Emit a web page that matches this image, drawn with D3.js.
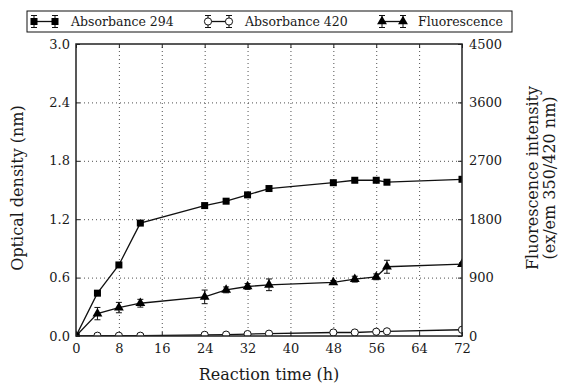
<!DOCTYPE html>
<html lang="en">
<head>
    <meta charset="UTF-8">
    <title>Reaction time chart</title>
    <script src="https://d3js.org/d3.v7.min.js"></script>
    <style>
        body { margin: 0; background: #fff; }
        svg text { font-family: "DejaVu Serif", serif; fill: #1a1a1a; }
        .grid line { stroke: #222; stroke-dasharray: 1,3; stroke-width: 0.8; }
        .grid path { display: none; }
        .axis path { display: none; }
        .axis line { stroke: #222; stroke-width: 1; }
    </style>
</head>
<body>
<div id="chart"></div>
<script>
    // reaction time (h)
    var times = [0, 4, 8, 12, 24, 28, 32, 36, 48, 52, 56, 58, 72];
    // optical density, left axis
    var abs294 = [0, 0.44, 0.73, 1.16, 1.34, 1.385, 1.45, 1.515, 1.575, 1.60, 1.60, 1.58, 1.61];
    var abs294Err = [0, 0.01, 0.01, 0.01, 0.01, 0.01, 0.01, 0.01, 0.01, 0.01, 0.01, 0.01, 0.01];
    var abs420 = [0, 0.003, 0.003, 0.003, 0.012, 0.014, 0.02, 0.024, 0.036, 0.036, 0.044, 0.048, 0.064];
    var abs420Err = [0, 0, 0.005, 0, 0.008, 0, 0.008, 0, 0.008, 0, 0.008, 0, 0.005];
    // fluorescence intensity, right axis
    var fluo = [0, 345, 438, 505, 603, 711, 763, 789, 825, 876, 912, 1067, 1109];
    var fluoErr = [0, 95, 80, 60, 105, 45, 45, 90, 30, 45, 45, 100, 20];

    var xTicks = [0, 8, 16, 24, 32, 40, 48, 56, 64, 72];
    var leftTicks = [0, 0.6, 1.2, 1.8, 2.4, 3.0];
    var rightTicks = [0, 900, 1800, 2700, 3600, 4500];

    var W = 564, H = 387;
    var pL = 76, pR = 462, pT = 44, pB = 336;

    var svg = d3.select("#chart").append("svg")
        .attr("width", W)
        .attr("height", H);

    var x = d3.scaleLinear().domain([0, 72]).range([pL, pR]);
    var yL = d3.scaleLinear().domain([0, 3]).range([pB, pT]);
    var yR = d3.scaleLinear().domain([0, 4500]).range([pB, pT]);

    // dotted grid
    svg.append("g")
        .attr("class", "grid")
        .attr("transform", "translate(0," + pB + ")")
        .call(d3.axisBottom(x).tickValues(xTicks.slice(1, -1)).tickSize(-(pB - pT)).tickFormat(""));
    svg.append("g")
        .attr("class", "grid")
        .attr("transform", "translate(" + pL + ",0)")
        .call(d3.axisLeft(yL).tickValues(leftTicks.slice(1, -1)).tickSize(-(pR - pL)).tickFormat(""));

    // axes with inward ticks
    var xAxis = svg.append("g")
        .attr("class", "axis")
        .attr("transform", "translate(0," + pB + ")")
        .call(d3.axisBottom(x).tickValues(xTicks).tickSizeInner(-4).tickSizeOuter(0).tickPadding(8));
    xAxis.selectAll("text").style("font-size", "13px");

    svg.append("g")
        .attr("class", "axis")
        .attr("transform", "translate(0," + pT + ")")
        .call(d3.axisTop(x).tickValues(xTicks).tickSizeInner(-4).tickSizeOuter(0).tickFormat(""));

    var lAxis = svg.append("g")
        .attr("class", "axis")
        .attr("transform", "translate(" + pL + ",0)")
        .call(d3.axisLeft(yL).tickValues(leftTicks).tickSizeInner(-4).tickSizeOuter(0).tickPadding(6).tickFormat(d3.format(".1f")));
    lAxis.selectAll("text").style("font-size", "13px");

    var rAxis = svg.append("g")
        .attr("class", "axis")
        .attr("transform", "translate(" + pR + ",0)")
        .call(d3.axisRight(yR).tickValues(rightTicks).tickSizeInner(-4).tickSizeOuter(0).tickPadding(7).tickFormat(d3.format("d")));
    rAxis.selectAll("text").style("font-size", "13px");

    // clip for series
    svg.append("clipPath").attr("id", "plotclip")
        .append("rect")
        .attr("x", pL).attr("y", pT)
        .attr("width", pR - pL).attr("height", pB - pT);

    var plot = svg.append("g").attr("clip-path", "url(#plotclip)");

    function drawSeries(vals, errs, y, marker) {
        var pts = times.map(function(t, i) { return { t: t, v: vals[i], e: errs[i] }; });
        var line = d3.line().x(d => x(d.t)).y(d => y(d.v));
        plot.append("path")
            .datum(pts)
            .attr("d", line)
            .attr("fill", "none")
            .attr("stroke", "#111")
            .attr("stroke-width", 1.3);

        var eb = plot.append("g").attr("stroke", "#111").attr("stroke-width", 1);
        pts.filter(d => d.e > 0).forEach(function(d) {
            var cx = x(d.t), y1 = y(d.v + d.e), y2 = y(d.v - d.e);
            eb.append("line").attr("x1", cx).attr("x2", cx).attr("y1", y1).attr("y2", y2);
            eb.append("line").attr("x1", cx - 3).attr("x2", cx + 3).attr("y1", y1).attr("y2", y1);
            eb.append("line").attr("x1", cx - 3).attr("x2", cx + 3).attr("y1", y2).attr("y2", y2);
        });

        var sym = plot.append("g");
        pts.forEach(function(d) {
            drawMarker(sym, marker, x(d.t), y(d.v));
        });
    }

    function drawMarker(g, marker, cx, cy) {
        if (marker === "square") {
            g.append("rect").attr("x", cx - 3.5).attr("y", cy - 3.5)
                .attr("width", 7).attr("height", 7).attr("fill", "#000");
        } else if (marker === "circle") {
            g.append("circle").attr("cx", cx).attr("cy", cy).attr("r", 3.6)
                .attr("fill", "#fff").attr("stroke", "#111").attr("stroke-width", 1);
        } else {
            g.append("path").attr("transform", "translate(" + cx + "," + cy + ")")
                .attr("d", d3.symbol().type(d3.symbolTriangle).size(42)())
                .attr("fill", "#000");
        }
    }

    drawSeries(abs420, abs420Err, yL, "circle");
    drawSeries(fluo, fluoErr, yR, "triangle");
    drawSeries(abs294, abs294Err, yL, "square");

    // frame
    svg.append("rect")
        .attr("x", pL).attr("y", pT)
        .attr("width", pR - pL).attr("height", pB - pT)
        .attr("fill", "none")
        .attr("stroke", "#222")
        .attr("stroke-width", 1.5);

    // titles
    svg.append("text")
        .attr("x", (pL + pR) / 2)
        .attr("y", 380)
        .attr("text-anchor", "middle")
        .style("font-size", "16px")
        .text("Reaction time (h)");

    svg.append("text")
        .attr("transform", "translate(23," + ((pT + pB) / 2 - 2) + ") rotate(-90)")
        .attr("text-anchor", "middle")
        .style("font-size", "16px")
        .text("Optical density (nm)");

    var rt = svg.append("text")
        .attr("transform", "translate(538,178) rotate(-90)")
        .attr("text-anchor", "middle")
        .style("font-size", "16px");
    rt.append("tspan").attr("x", 0).attr("dy", 0).text("Fluorescence intensity");
    rt.append("tspan").attr("x", 0).attr("dy", 17).text("(ex/em 350/420 nm)");

    // legend
    var legendItems = [
        { name: "Absorbance 294", marker: "square", sx: 31, tx: 71 },
        { name: "Absorbance 420", marker: "circle", sx: 205, tx: 245 },
        { name: "Fluorescence", marker: "triangle", sx: 379, tx: 418 }
    ];
    var lg = svg.append("g");
    lg.append("rect")
        .attr("x", 27).attr("y", 11)
        .attr("width", 485).attr("height", 21)
        .attr("fill", "#fff").attr("stroke", "#111").attr("stroke-width", 1);
    legendItems.forEach(function(it) {
        var cy = 21.5;
        lg.append("line").attr("x1", it.sx + 3).attr("x2", it.sx + 24).attr("y1", cy).attr("y2", cy)
            .attr("stroke", "#111").attr("stroke-width", 1.3);
        [it.sx + 3, it.sx + 24].forEach(function(cx) {
            lg.append("line").attr("x1", cx).attr("x2", cx).attr("y1", cy - 6).attr("y2", cy + 6).attr("stroke", "#111");
            lg.append("line").attr("x1", cx - 3).attr("x2", cx + 3).attr("y1", cy - 6).attr("y2", cy - 6).attr("stroke", "#111");
            lg.append("line").attr("x1", cx - 3).attr("x2", cx + 3).attr("y1", cy + 6).attr("y2", cy + 6).attr("stroke", "#111");
            drawMarker(lg, it.marker, cx, cy);
        });
        lg.append("text")
            .attr("x", it.tx).attr("y", cy + 4.5)
            .style("font-size", "12.5px")
            .text(it.name);
    });
</script>
</body>
</html>
